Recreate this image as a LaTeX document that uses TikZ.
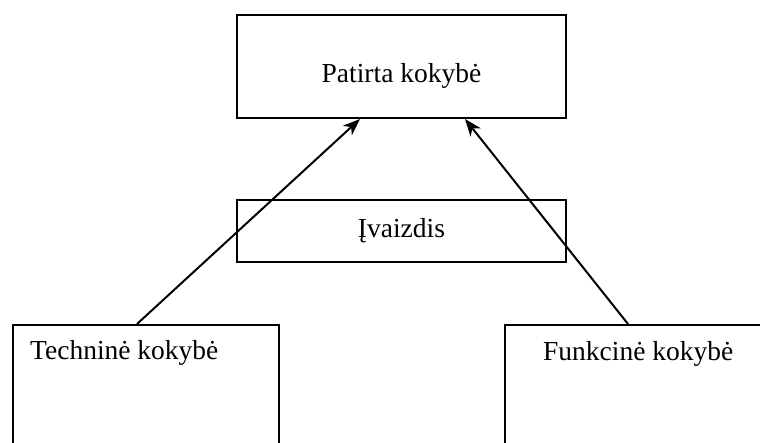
\documentclass[tikz,border=0pt]{standalone}
\usepackage{fontspec}
\setmainfont{Liberation Serif}
\usetikzlibrary{arrows.meta}
\tikzset{
  box/.style={draw, line width=2pt, rectangle, inner sep=0pt},
  boxtext/.style={font=\fontsize{27.5}{32}\selectfont},
  link/.style={line width=2pt, -{Stealth[length=17pt, width=13pt, inset=5pt]}}
}
\begin{document}
\begin{tikzpicture}[x=1pt, y=-1pt]
  \useasboundingbox (0,0) rectangle (760,442);
  \clip (0,0) rectangle (760,442);
  \node[box, boxtext, minimum width=329pt, minimum height=103pt,
        text height=38pt, text depth=7pt] (patirta) at (401.5,66.5) {Patirta kokybė};
  \node[box, boxtext, minimum width=329pt, minimum height=62pt] (ivaizdis) at (401.5,231) {Įvaizdis};
  \node[box, anchor=north west, minimum width=266pt, minimum height=200pt] (technine) at (12,324) {};
  \node[box, anchor=north west, minimum width=300pt, minimum height=200pt] (funkcine) at (504,324) {};
  \node[boxtext, anchor=base west, inner sep=0pt] (technine text) at (30,359) {Techninė kokybė};
  \node[boxtext, anchor=base west, inner sep=0pt] (funkcine text) at (543,360) {Funkcinė kokybė};
  \begin{scope}
    \draw[link] (technine.north west) ++(125,0) coordinate (t1) -- (patirta.south west -| 360,0);
    \draw[link] (funkcine.north west) ++(124,0) coordinate (f1) -- (patirta.south west -| 465,0);
  \end{scope}
\end{tikzpicture}
\end{document}
